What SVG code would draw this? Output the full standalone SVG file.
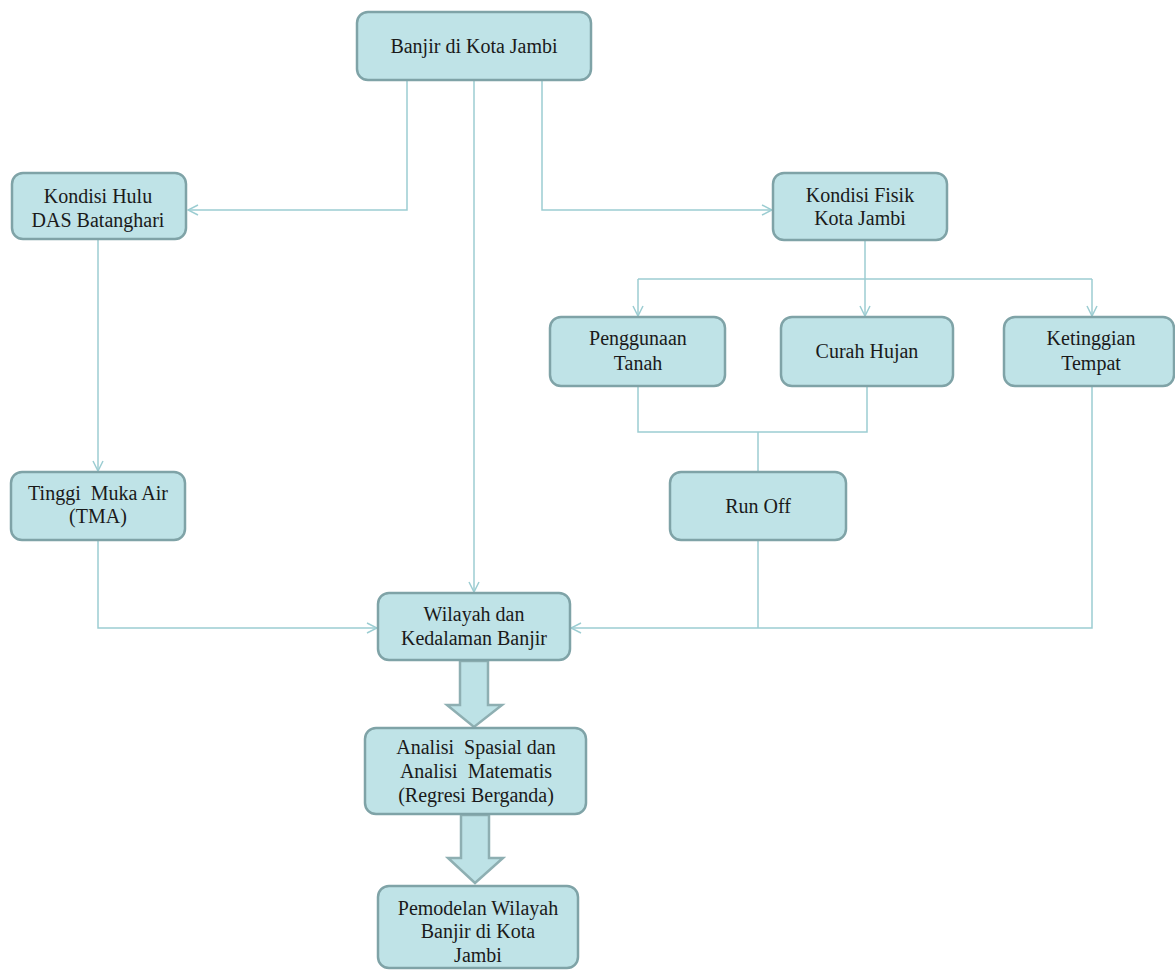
<svg xmlns="http://www.w3.org/2000/svg" width="1175" height="972" viewBox="0 0 1175 972">
<defs>
<style>
.box{fill:#bfe3e7;stroke:#7fa3a7;stroke-width:2.5}
text{font-family:'Liberation Serif','Times New Roman','DejaVu Serif',serif;font-size:20px;fill:#1a1a1a;text-anchor:middle}
.c{fill:none;stroke:#9ccdd2;stroke-width:1.5}
.big{fill:#bde2e6;stroke:#8eafb2;stroke-width:2.5;stroke-linejoin:miter}
</style>
<marker id="ah" viewBox="0 0 12 12" refX="11" refY="6" markerWidth="12" markerHeight="12" markerUnits="userSpaceOnUse" orient="auto">
<path d="M1,1 L11,6 L1,11" fill="none" stroke="#9ccdd2" stroke-width="1.5"/>
</marker>
</defs>
<rect width="1175" height="972" fill="#ffffff"/>
<g id="connectors">
<path class="c" d="M407,80 V210 H188" marker-end="url(#ah)"/>
<path class="c" d="M542,80 V210 H772" marker-end="url(#ah)"/>
<path class="c" d="M474,80 V592" marker-end="url(#ah)"/>
<path class="c" d="M98,239 V471" marker-end="url(#ah)"/>
<path class="c" d="M865,241 V279"/>
<path class="c" d="M638,279 H1092"/>
<path class="c" d="M638,279 V316" marker-end="url(#ah)"/>
<path class="c" d="M865,279 V316" marker-end="url(#ah)"/>
<path class="c" d="M1092,279 V316" marker-end="url(#ah)"/>
<path class="c" d="M638,387 V432 H867 V387"/>
<path class="c" d="M758,432 V471"/>
<path class="c" d="M98,541 V628 H377" marker-end="url(#ah)"/>
<path class="c" d="M758,541 V628"/>
<path class="c" d="M1092,387 V628 H571" marker-end="url(#ah)"/>
<path class="big" d="M460,661 V705 H447 L474,727 L502,705 H488 V661 Z"/>
<path class="big" d="M461,815 V858 H448 L475,883 L503,858 H489 V815 Z"/>
</g>
<g id="n-banjir">
<rect class="box" x="357" y="12" width="234" height="68" rx="11"/>
<text x="474" y="53">Banjir di Kota Jambi</text>
</g>
<g id="n-hulu">
<rect class="box" x="12" y="173" width="174" height="66" rx="11"/>
<text x="98" y="203">Kondisi Hulu</text>
<text x="98" y="227">DAS Batanghari</text>
</g>
<g id="n-fisik">
<rect class="box" x="773" y="173" width="174" height="67" rx="11"/>
<text x="860" y="202">Kondisi Fisik</text>
<text x="860" y="225">Kota Jambi</text>
</g>
<g id="n-penggunaan">
<rect class="box" x="550" y="317" width="175" height="69" rx="11"/>
<text x="638" y="345">Penggunaan</text>
<text x="638" y="370">Tanah</text>
</g>
<g id="n-curah">
<rect class="box" x="781" y="317" width="172" height="69" rx="11"/>
<text x="867" y="358">Curah Hujan</text>
</g>
<g id="n-ketinggian">
<rect class="box" x="1004" y="317" width="170" height="69" rx="11"/>
<text x="1091" y="345">Ketinggian</text>
<text x="1091" y="370">Tempat</text>
</g>
<g id="n-tma">
<rect class="box" x="11" y="472" width="174" height="68" rx="11"/>
<text x="98" y="500" xml:space="preserve">Tinggi  Muka Air</text>
<text x="98" y="523">(TMA)</text>
</g>
<g id="n-runoff">
<rect class="box" x="670" y="472" width="176" height="68" rx="11"/>
<text x="758" y="513">Run Off</text>
</g>
<g id="n-wilayah">
<rect class="box" x="378" y="593" width="192" height="67" rx="11"/>
<text x="474" y="621">Wilayah dan</text>
<text x="474" y="645">Kedalaman Banjir</text>
</g>
<g id="n-analisi">
<rect class="box" x="365" y="728" width="221" height="86" rx="11"/>
<text x="476" y="754" xml:space="preserve">Analisi  Spasial dan</text>
<text x="476" y="778" xml:space="preserve">Analisi  Matematis</text>
<text x="476" y="802">(Regresi Berganda)</text>
</g>
<g id="n-pemodelan">
<rect class="box" x="378" y="886" width="200" height="82" rx="11"/>
<text x="478" y="915">Pemodelan Wilayah</text>
<text x="478" y="938">Banjir di Kota</text>
<text x="478" y="962">Jambi</text>
</g>
</svg>
